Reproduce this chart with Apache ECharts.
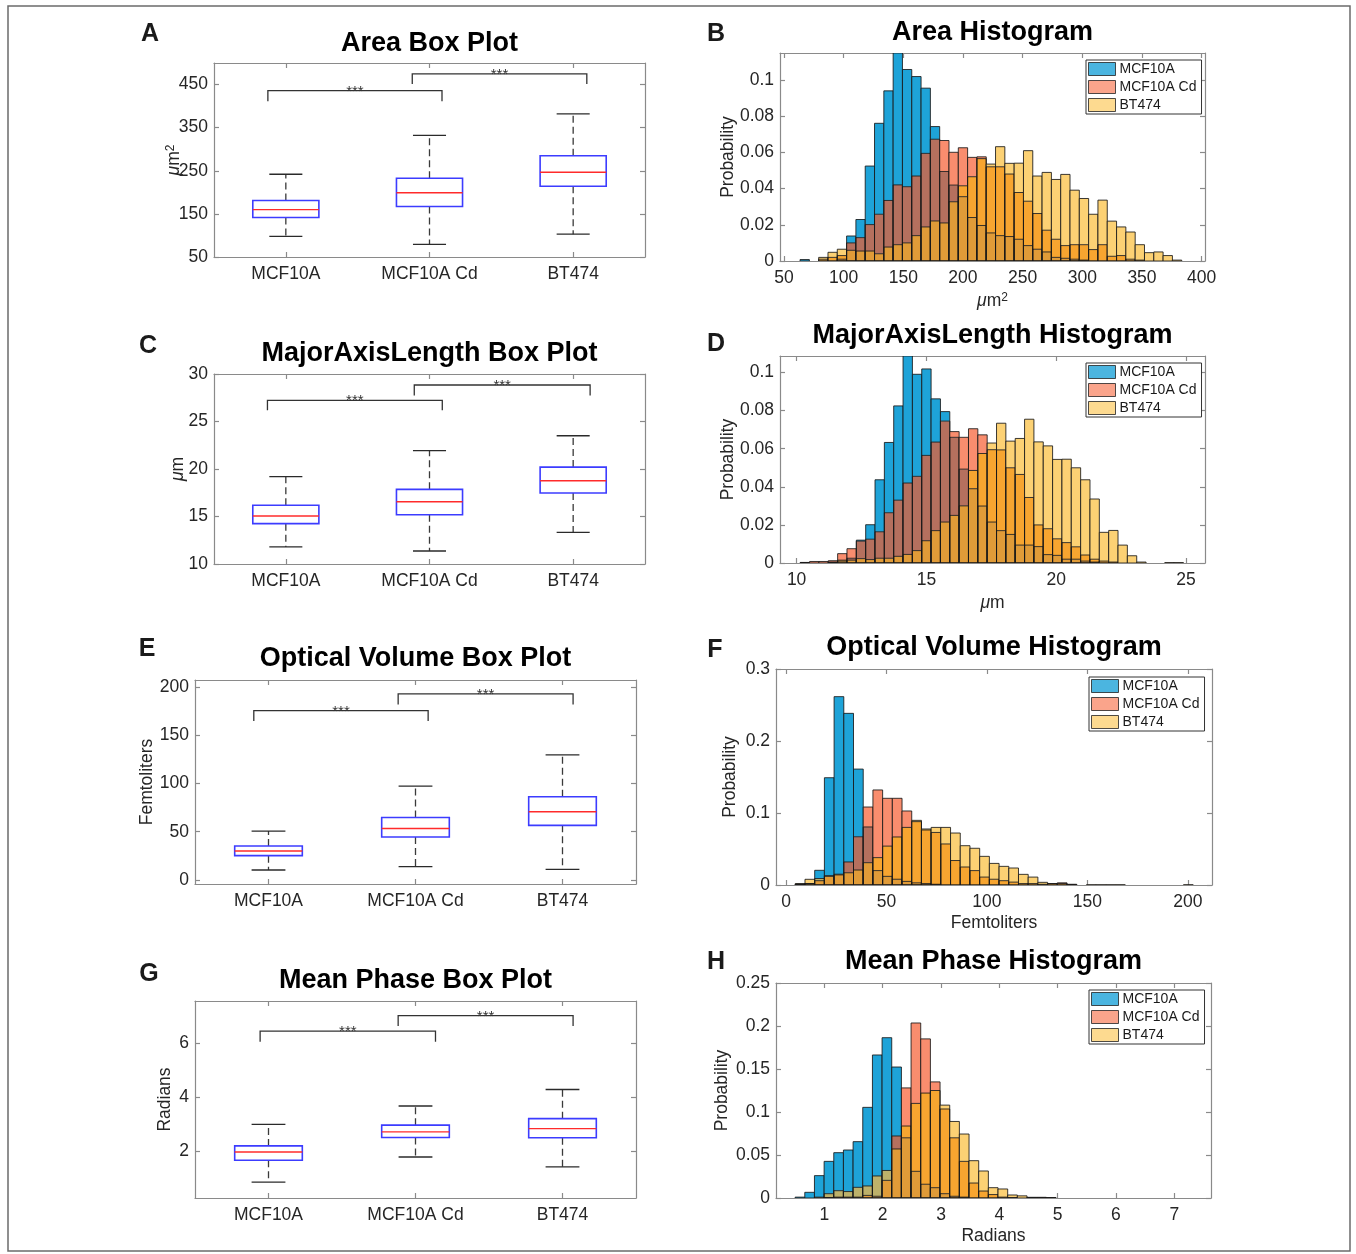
<!DOCTYPE html>
<html>
<head>
<meta charset="utf-8">
<title>Box plots and histograms</title>
<script src="https://cdn.jsdelivr.net/npm/echarts@6/dist/echarts.min.js"></script>
<style>
html, body { margin: 0; padding: 0; background: #fff; }
#chart { width: 1356px; height: 1254px; }
</style>
</head>
<body>
<div id="chart"></div>
<script>
const cellLines = ['MCF10A', 'MCF10A Cd', 'BT474'];

// box stats per cell line: [lower whisker, Q1, median, Q3, upper whisker]
const areaBox = [[98, 141.6, 160, 181, 242], [79.5, 167, 199, 232.5, 332], [103, 214, 246.5, 285, 382]];
const axisBox = [[11.8, 14.25, 15.05, 16.18, 19.2], [11.37, 15.19, 16.56, 17.86, 21.93], [13.33, 17.47, 18.77, 20.2, 23.5]];
const volumeBox = [[10.3, 25.2, 30, 35.2, 50.7], [13.8, 44.5, 53.4, 64.8, 97.2], [11, 56.6, 70.7, 86.2, 129.7]];
const phaseBox = [[0.86, 1.67, 1.975, 2.2, 3.0], [1.79, 2.51, 2.72, 2.97, 3.68], [1.42, 2.5, 2.84, 3.21, 4.29]];

// significance brackets: [from, to, bar level, leg end]
const areaBrackets = [[-0.125, 1.087, 436, 411], [0.88, 2.095, 475, 451.5]];
const axisBrackets = [[-0.128, 1.089, 27.23, 26.18], [0.894, 2.118, 28.84, 27.75]];
const volumeBrackets = [[-0.1, 1.086, 175.5, 164.8], [0.882, 2.072, 193, 182]];
const phaseBrackets = [[-0.057, 1.136, 6.45, 6.06], [0.882, 2.072, 7.03, 6.64]];

// histograms: first bin edge, bin width, probability per bin
const areaBinStart = 63.5, areaBinWidth = 7.8;
const areaMCF = [0.0008, 0, 0, 0, 0.001, 0.0138, 0.0229, 0.0524, 0.076, 0.0939, 0.1148, 0.1057, 0.1018, 0.0954, 0.0742, 0.0494, 0.0419, 0.0355, 0.024, 0.0196, 0.0155, 0.014, 0.0135, 0.012, 0.0085, 0.0065, 0.005, 0.002, 0.0015, 0.001, 0.0005, 0, 0, 0, 0, 0, 0, 0, 0, 0, 0, 0];
const areaCd = [0, 0, 0.001, 0.002, 0.003, 0.010, 0.0129, 0.0201, 0.0258, 0.0334, 0.042, 0.041, 0.0469, 0.0594, 0.0672, 0.0665, 0.060, 0.0625, 0.0572, 0.0575, 0.052, 0.052, 0.048, 0.0378, 0.033, 0.0262, 0.017, 0.012, 0.0085, 0.009, 0.009, 0.0063, 0.009, 0.0026, 0.003, 0.001, 0.0005, 0, 0, 0, 0, 0];
const areaBT = [0, 0, 0.002, 0.0048, 0.0065, 0.0059, 0.0055, 0.0055, 0.004, 0.0077, 0.009, 0.010, 0.014, 0.0188, 0.0221, 0.021, 0.0327, 0.0415, 0.0465, 0.0565, 0.0535, 0.0631, 0.0539, 0.054, 0.0609, 0.0469, 0.0489, 0.045, 0.0478, 0.0391, 0.0345, 0.0258, 0.0336, 0.022, 0.0188, 0.016, 0.009, 0.0046, 0.005, 0.003, 0.0005, 0];

const axisBinStart = 10.14, axisBinWidth = 0.36;
const axisMCF = [0.0002, 0, 0, 0.0003, 0.001, 0.0025, 0.012, 0.0201, 0.0437, 0.0633, 0.0825, 0.1087, 0.0991, 0.1019, 0.0862, 0.0795, 0.066, 0.0493, 0.039, 0.0299, 0.0215, 0.017, 0.015, 0.0094, 0.0094, 0.0086, 0.0044, 0.004, 0.002, 0.002, 0.001, 0.0005, 0, 0, 0, 0, 0, 0, 0, 0, 0];
const axisCd = [0.0003, 0.0008, 0.0008, 0.0012, 0.0049, 0.0075, 0.0115, 0.0125, 0.0164, 0.0264, 0.033, 0.042, 0.0455, 0.0565, 0.0635, 0.0745, 0.069, 0.066, 0.0705, 0.0673, 0.0595, 0.0594, 0.050, 0.0465, 0.0344, 0.020, 0.018, 0.0127, 0.0107, 0.0085, 0.0042, 0.002, 0.001, 0.0005, 0, 0, 0, 0, 0, 0, 0];
const axisBT = [0, 0, 0, 0.0005, 0.0015, 0.0015, 0.0023, 0.0018, 0.0025, 0.0025, 0.0035, 0.0045, 0.0065, 0.0117, 0.017, 0.0215, 0.025, 0.030, 0.0486, 0.0575, 0.063, 0.0734, 0.064, 0.0654, 0.0755, 0.0636, 0.0615, 0.0544, 0.0545, 0.050, 0.0437, 0.0336, 0.0161, 0.0171, 0.0094, 0.0038, 0.0005, 0, 0, 0.0002, 0.0002];

const volBinStart = 4.6, volBinWidth = 4.83;
const volMCF = [0.001, 0.002, 0.0204, 0.149, 0.2616, 0.2384, 0.161, 0.0806, 0.02, 0.012, 0.008, 0.005, 0.003, 0.002, 0.001, 0, 0, 0, 0, 0, 0, 0, 0, 0, 0, 0, 0, 0, 0, 0, 0, 0, 0, 0, 0, 0, 0, 0, 0, 0, 0];
const volCd = [0.001, 0.002, 0.006, 0.012, 0.014, 0.032, 0.067, 0.1083, 0.132, 0.1204, 0.1204, 0.1028, 0.088, 0.0764, 0.073, 0.057, 0.034, 0.025, 0.02, 0.011, 0.008, 0.006, 0.004, 0.002, 0.002, 0.001, 0.002, 0.003, 0.001, 0, 0, 0, 0, 0, 0, 0, 0, 0, 0, 0, 0];
const volBT = [0.002, 0.0079, 0.009, 0.013, 0.015, 0.017, 0.0208, 0.031, 0.038, 0.054, 0.0667, 0.080, 0.0898, 0.0778, 0.080, 0.080, 0.0722, 0.0546, 0.051, 0.0398, 0.030, 0.0259, 0.0236, 0.0148, 0.011, 0.0037, 0.002, 0.002, 0.0005, 0, 0.0003, 0.0003, 0.0003, 0.0003, 0, 0, 0, 0, 0, 0, 0.0003];

const phaseBinStart = 0.498, phaseBinWidth = 0.1657;
const phaseMCF = [0.001, 0.0066, 0.026, 0.0426, 0.0527, 0.0558, 0.0655, 0.1054, 0.1663, 0.1864, 0.1523, 0.07, 0.031, 0.016, 0.012, 0.005, 0.002, 0.001, 0, 0, 0, 0, 0, 0, 0.0008, 0, 0, 0];
const phaseCd = [0, 0, 0, 0.0005, 0.001, 0.001, 0.001, 0.003, 0.002, 0.0205, 0.0721, 0.128, 0.2035, 0.185, 0.135, 0.1035, 0.070, 0.0426, 0.0174, 0.0081, 0.004, 0.001, 0.0005, 0, 0, 0.0008, 0.0005, 0];
const phaseBT = [0, 0, 0.001, 0.005, 0.0085, 0.0075, 0.0124, 0.014, 0.0256, 0.032, 0.057, 0.0837, 0.110, 0.122, 0.125, 0.108, 0.089, 0.0744, 0.0434, 0.0314, 0.012, 0.0105, 0.0035, 0.0025, 0.0005, 0.0005, 0.0003, 0];

const FONT = "'Liberation Sans', Arial, Helvetica, sans-serif";
const TEXT = '#262626';
const FRAME = '#8a8a8a';
const TICK_SIZE = 17.5;
const legendColors = ['#1EA3D8', '#F98D6E', '#FCD174'];
// fill of a histogram segment, by which cell lines overlap there
const segColor = { b: '#1EA3D8', r: '#F98D6E', y: '#FCD174', br: '#B5705E', ry: '#F7A530', by: '#BDB16A', bry: '#E09B38' };

const muSq = '{mu|μ}{t|m}{sup|2}';
const mu = '{mu|μ}{t|m}';
const nameRich = {
  mu: { fontStyle: 'italic', fontSize: TICK_SIZE, fontFamily: FONT, color: TEXT, lineHeight: 18, verticalAlign: 'bottom' },
  t: { fontSize: TICK_SIZE, fontFamily: FONT, color: TEXT, lineHeight: 18, verticalAlign: 'bottom' },
  sup: { fontSize: 12, fontFamily: FONT, color: TEXT, lineHeight: 12, padding: [0, 0, 12, 0], verticalAlign: 'top' }
};

const boxPanels = [
  { letter: 'A', letterPos: [150, 34], title: 'Area Box Plot', titleY: 44, grid: [214, 63, 431, 194],
    stats: areaBox, brackets: areaBrackets, yMin: 50, yMax: 500, yTicks: [50, 150, 250, 350, 450], yName: muSq, yGap: 31 },
  { letter: 'C', letterPos: [148, 346], title: 'MajorAxisLength Box Plot', titleY: 354, grid: [214, 374, 431, 190],
    stats: axisBox, brackets: axisBrackets, yMin: 10, yMax: 30, yTicks: [10, 15, 20, 25, 30], yName: mu, yGap: 27 },
  { letter: 'E', letterPos: [147, 649], title: 'Optical Volume Box Plot', titleY: 659, grid: [195, 680, 441, 204],
    stats: volumeBox, brackets: volumeBrackets, yMin: -4.2, yMax: 207.3, yTicks: [0, 50, 100, 150, 200], yName: 'Femtoliters', yGap: 39 },
  { letter: 'G', letterPos: [149, 974], title: 'Mean Phase Box Plot', titleY: 981, grid: [195, 1001, 441, 197],
    stats: phaseBox, brackets: phaseBrackets, yMin: 0.27, yMax: 7.57, yTicks: [2, 4, 6], yName: 'Radians', yGap: 21 }
];

const histPanels = [
  { letter: 'B', letterPos: [716, 34], title: 'Area Histogram', titleY: 33, grid: [780, 53, 425, 208],
    start: areaBinStart, width: areaBinWidth, mcf: areaMCF, cd: areaCd, bt: areaBT,
    xMin: 46.7, xMax: 402.8, xTicks: [50, 100, 150, 200, 250, 300, 350, 400], xName: muSq, xGap: 31,
    yMax: 0.1148, yTicks: [0, 0.02, 0.04, 0.06, 0.08, 0.1], yGap: 43, legend: [1086, 60] },
  { letter: 'D', letterPos: [716, 344], title: 'MajorAxisLength Histogram', titleY: 336, grid: [780, 356, 425, 207],
    start: axisBinStart, width: axisBinWidth, mcf: axisMCF, cd: axisCd, bt: axisBT,
    xMin: 9.36, xMax: 25.73, xTicks: [10, 15, 20, 25], xName: mu, xGap: 31,
    yMax: 0.1087, yTicks: [0, 0.02, 0.04, 0.06, 0.08, 0.1], yGap: 43, legend: [1086, 363] },
  { letter: 'F', letterPos: [715, 650], title: 'Optical Volume Histogram', titleY: 648, grid: [776, 669, 436, 216],
    start: volBinStart, width: volBinWidth, mcf: volMCF, cd: volCd, bt: volBT,
    xMin: -5, xMax: 212, xTicks: [0, 50, 100, 150, 200], xName: 'Femtoliters', xGap: 29,
    yMax: 0.3, yTicks: [0, 0.1, 0.2, 0.3], yGap: 37, legend: [1089, 677] },
  { letter: 'H', letterPos: [716, 962], title: 'Mean Phase Histogram', titleY: 962, grid: [776, 983, 435, 215],
    start: phaseBinStart, width: phaseBinWidth, mcf: phaseMCF, cd: phaseCd, bt: phaseBT,
    xMin: 0.17, xMax: 7.63, xTicks: [1, 2, 3, 4, 5, 6, 7], xName: 'Radians', xGap: 29,
    yMax: 0.25, yTicks: [0, 0.05, 0.1, 0.15, 0.2, 0.25], yGap: 45, legend: [1089, 990] }
];

const grids = [], xAxis = [], yAxis = [], series = [], legends = [], graphic = [];

function numLabel(v) {
  return String(+v.toFixed(4));
}

function addAxes(gi, x, y) {
  const common = {
    type: 'value', gridIndex: gi, splitLine: { show: false },
    axisLine: { show: true, onZero: false, lineStyle: { color: FRAME, width: 1.2 } }
  };
  const label = { color: TEXT, fontSize: TICK_SIZE, fontFamily: FONT };
  const nameStyle = { color: TEXT, fontSize: TICK_SIZE, fontFamily: FONT, rich: nameRich };
  const tick = vals => ({ show: true, inside: true, length: 5, customValues: vals, lineStyle: { color: FRAME, width: 1.2 } });
  xAxis.push(Object.assign({}, common, {
    position: 'bottom', min: x.min, max: x.max, axisTick: tick(x.ticks),
    axisLabel: Object.assign({ customValues: x.ticks, formatter: x.fmt, margin: 8 }, label),
    name: x.name || '', nameLocation: 'middle', nameGap: x.gap || 30, nameMoveOverlap: false, nameTextStyle: nameStyle
  }));
  xAxis.push(Object.assign({}, common, {
    position: 'top', min: x.min, max: x.max, axisTick: tick(x.ticks), axisLabel: { show: false }
  }));
  yAxis.push(Object.assign({}, common, {
    position: 'left', min: y.min, max: y.max, axisTick: tick(y.ticks),
    axisLabel: Object.assign({ customValues: y.ticks, formatter: y.fmt, margin: 6 }, label),
    name: y.name || '', nameLocation: 'middle', nameGap: y.gap || 30, nameMoveOverlap: false, nameTextStyle: nameStyle
  }));
  yAxis.push(Object.assign({}, common, {
    position: 'right', min: y.min, max: y.max, axisTick: tick(y.ticks), axisLabel: { show: false }
  }));
}

function addHeading(p, cx) {
  graphic.push({
    type: 'text', x: cx, y: p.titleY,
    style: { text: p.title, font: 'bold 27px ' + FONT, fill: '#000', textAlign: 'center', textVerticalAlign: 'middle' }
  });
  graphic.push({
    type: 'text', x: p.letterPos[0], y: p.letterPos[1],
    style: { text: p.letter, font: 'bold 25px ' + FONT, fill: '#1a1a1a', textAlign: 'center', textVerticalAlign: 'middle' }
  });
}

function boxRender(params, api) {
  const i = api.value(0);
  const lo = api.value(1), q1 = api.value(2), med = api.value(3), q3 = api.value(4), hi = api.value(5);
  const cx = api.coord([i, med])[0];
  const half = api.size([0.46, 0])[0] / 2;
  const cap = half / 2;
  const py = v => api.coord([i, v])[1];
  const line = (x1, y1, x2, y2, style) => ({ type: 'line', shape: { x1, y1, x2, y2 }, style });
  const dash = { stroke: '#3a3a3a', lineWidth: 1.3, lineDash: [7, 4] };
  const solid = { stroke: '#2a2a2a', lineWidth: 1.3 };
  return {
    type: 'group',
    children: [
      line(cx, py(q3), cx, py(hi), dash),
      line(cx, py(q1), cx, py(lo), dash),
      line(cx - cap, py(hi), cx + cap, py(hi), solid),
      line(cx - cap, py(lo), cx + cap, py(lo), solid),
      { type: 'rect', shape: { x: cx - half, y: py(q3), width: half * 2, height: py(q1) - py(q3) },
        style: { fill: 'none', stroke: '#3c3cff', lineWidth: 1.6 } },
      line(cx - half, py(med), cx + half, py(med), { stroke: '#ff2b2b', lineWidth: 1.4 })
    ]
  };
}

function bracketRender(params, api) {
  const a = api.coord([api.value(0), api.value(3)]);
  const b = api.coord([api.value(0), api.value(2)]);
  const c = api.coord([api.value(1), api.value(2)]);
  const d = api.coord([api.value(1), api.value(3)]);
  return {
    type: 'group',
    children: [
      { type: 'polyline', shape: { points: [a, b, c, d] }, style: { fill: 'none', stroke: '#333', lineWidth: 1.3 } },
      { type: 'text', x: (b[0] + c[0]) / 2, y: b[1] + 1,
        style: { text: '***', font: '15px ' + FONT, fill: '#333', textAlign: 'center', textVerticalAlign: 'middle' } }
    ]
  };
}

function histRender(params, api) {
  const x0 = api.value(0), x1 = api.value(1);
  const h = [api.value(2), api.value(3), api.value(4)];
  const keys = ['b', 'r', 'y'];
  const levels = Array.from(new Set(h.filter(v => v > 0))).sort((a, b) => a - b);
  const children = [];
  let prev = 0;
  levels.forEach(lv => {
    const key = keys.filter((k, j) => h[j] >= lv).join('');
    const tl = api.coord([x0, lv]), br = api.coord([x1, prev]);
    children.push({ type: 'rect', shape: { x: tl[0], y: tl[1], width: br[0] - tl[0], height: br[1] - tl[1] },
      style: { fill: segColor[key] } });
    prev = lv;
  });
  h.forEach(v => {
    if (v <= 0) return;
    const tl = api.coord([x0, v]), br = api.coord([x1, 0]);
    children.push({ type: 'rect', shape: { x: tl[0], y: tl[1], width: br[0] - tl[0], height: br[1] - tl[1] },
      style: { fill: 'none', stroke: 'rgba(25,25,25,0.85)', lineWidth: 1 } });
  });
  return { type: 'group', children };
}

boxPanels.forEach(p => {
  const gi = grids.length;
  grids.push({ left: p.grid[0], top: p.grid[1], width: p.grid[2], height: p.grid[3], outerBoundsMode: 'none' });
  addAxes(gi,
    { min: -0.5, max: 2.5, ticks: [0, 1, 2], fmt: v => cellLines[Math.round(v)] },
    { min: p.yMin, max: p.yMax, ticks: p.yTicks, fmt: numLabel, name: p.yName, gap: p.yGap });
  series.push({
    type: 'custom', name: p.title, xAxisIndex: gi * 2, yAxisIndex: gi * 2, renderItem: boxRender,
    data: p.stats.map((s, i) => [i].concat(s)), encode: { x: 0, y: [1, 2, 3, 4, 5] }, clip: false, silent: true
  });
  series.push({
    type: 'custom', name: p.title + ' significance', xAxisIndex: gi * 2, yAxisIndex: gi * 2, renderItem: bracketRender,
    data: p.brackets, encode: { x: [0, 1], y: [2, 3] }, clip: false, silent: true
  });
  addHeading(p, p.grid[0] + p.grid[2] / 2);
});

histPanels.forEach(p => {
  const gi = grids.length;
  grids.push({ left: p.grid[0], top: p.grid[1], width: p.grid[2], height: p.grid[3], outerBoundsMode: 'none' });
  addAxes(gi,
    { min: p.xMin, max: p.xMax, ticks: p.xTicks, fmt: numLabel, name: p.xName, gap: p.xGap },
    { min: 0, max: p.yMax, ticks: p.yTicks, fmt: numLabel, name: 'Probability', gap: p.yGap });
  const data = p.mcf.map((v, k) => {
    const e = p.start + k * p.width;
    return [e, e + p.width, v, p.cd[k], p.bt[k]];
  });
  series.push({
    type: 'custom', name: p.title, xAxisIndex: gi * 2, yAxisIndex: gi * 2, renderItem: histRender,
    data, encode: { x: [0, 1], y: [2, 3, 4] }, clip: true, silent: true
  });
  legends.push({
    left: p.legend[0], top: p.legend[1], orient: 'vertical', data: cellLines, selectedMode: false,
    icon: 'rect', itemWidth: 27, itemHeight: 13, itemGap: 4, padding: [2, 5, 2, 2],
    backgroundColor: '#fff', borderColor: '#333', borderWidth: 1, borderRadius: 0,
    itemStyle: { borderColor: '#222', borderWidth: 1 },
    textStyle: { color: '#1a1a1a', fontSize: 14, fontFamily: FONT, padding: [0, 0, 0, -1] }
  });
  addHeading(p, p.grid[0] + p.grid[2] / 2);
});

// series that only carry the legend entries
cellLines.forEach((name, i) => {
  series.push({ type: 'scatter', name, xAxisIndex: 8, yAxisIndex: 8, data: [], itemStyle: { color: legendColors[i] } });
});

graphic.push({
  type: 'rect', shape: { x: 8, y: 6, width: 1342, height: 1245 },
  style: { fill: 'none', stroke: '#6b6b6b', lineWidth: 1.5 }, z: -1
});

const chart = echarts.init(document.getElementById('chart'), null, { renderer: 'canvas' });
chart.setOption({
  animation: false,
  backgroundColor: '#fff',
  textStyle: { fontFamily: FONT },
  grid: grids,
  xAxis,
  yAxis,
  legend: legends,
  graphic,
  series
});
</script>
</body>
</html>
